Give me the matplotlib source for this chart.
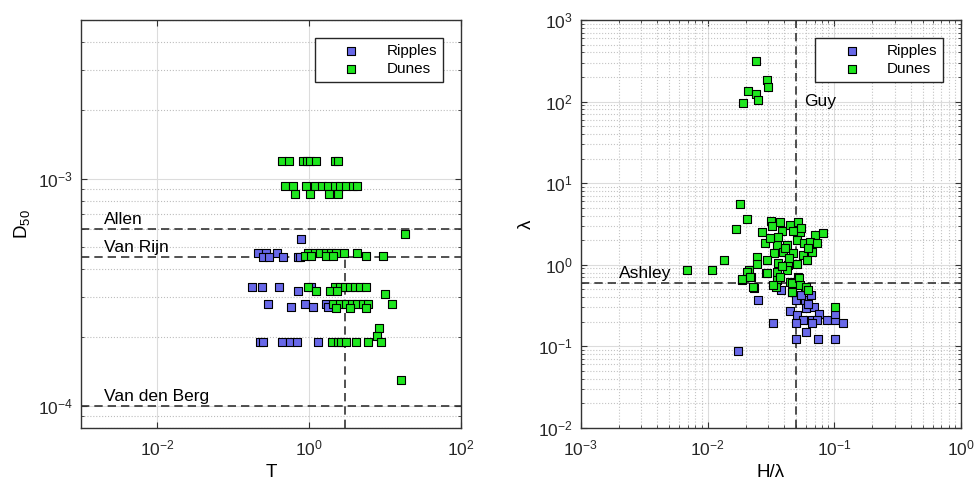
import matplotlib
matplotlib.use("Agg")
import matplotlib.pyplot as plt
import matplotlib.ticker as mticker

plt.rcParams['font.family'] = ['Liberation Sans', 'DejaVu Sans']
plt.rcParams['mathtext.default'] = 'regular'

# ---- bedform data: transport stage T vs median grain size D50 ----
ripples_T = [0.8,
             0.215, 0.27, 0.376,
             0.25, 0.30, 0.46, 0.72, 0.76,
             0.18, 0.245, 0.41, 1.08,
             0.72,
             0.29, 0.89, 1.67,
             0.59, 1.14, 1.8,
             0.23, 0.25, 0.45, 0.57, 0.70, 1.34]
ripples_D50 = [5.4e-4,
               4.7e-4, 4.7e-4, 4.7e-4,
               4.5e-4, 4.5e-4, 4.5e-4, 4.5e-4, 4.5e-4,
               3.33e-4, 3.33e-4, 3.33e-4, 3.33e-4,
               3.2e-4,
               2.81e-4, 2.81e-4, 2.81e-4,
               2.71e-4, 2.71e-4, 2.71e-4,
               1.9e-4, 1.9e-4, 1.9e-4, 1.9e-4, 1.9e-4, 1.9e-4]

dunes_T = [0.44, 0.55, 0.83, 0.95, 1.03, 1.26, 2.2, 2.4,
           0.48, 0.62, 0.93, 1.2, 1.47, 1.8, 2.2, 2.56, 3.13, 3.83, 4.3,
           0.65, 1.03, 1.85, 2.43,
           18.3,
           0.98, 1.2, 1.4, 1.67, 1.99, 2.3, 2.9, 4.3,
           0.89, 1.08, 1.71, 2.09, 5.6, 9.5,
           0.98, 2.2, 2.56, 2.98, 3.47, 4.0, 4.7, 5.6,
           1.26, 1.89, 2.36,
           10.0,
           2.09, 2.56, 3.07, 3.65, 4.3, 5.2, 6.0, 12.3,
           2.3, 3.47, 5.7,
           8.4,
           7.8,
           2.05, 2.43, 2.69, 3.07, 4.15, 6.0, 9.05,
           16.6]
dunes_D50 = [1.2e-3] * 8 + [9.3e-4] * 11 + [8.6e-4] * 4 + [5.7e-4] + \
            [4.7e-4] * 8 + [4.55e-4] * 6 + [3.33e-4] * 8 + [3.19e-4] * 3 + \
            [3.1e-4] + [2.81e-4] * 8 + [2.7e-4] * 3 + [2.2e-4] + [2.03e-4] + \
            [1.9e-4] * 7 + [1.3e-4]

# ---- bedform data: steepness H/lambda vs wavelength lambda ----
ripples_steep = [0.0377, 0.0252, 0.05, 0.0587, 0.0651, 0.0448, 0.0505,
                 0.0598, 0.069, 0.076, 0.057, 0.0664, 0.0726, 0.087, 0.101,
                 0.101, 0.118, 0.033, 0.05, 0.0598, 0.05, 0.0748, 0.101,
                 0.0175, 0.0664, 0.062, 0.055]
ripples_lambda = [0.49, 0.37, 0.37, 0.37, 0.43, 0.27, 0.24,
                  0.29, 0.30, 0.25, 0.21, 0.21, 0.21, 0.21, 0.21,
                  0.25, 0.19, 0.19, 0.19, 0.15, 0.124, 0.122, 0.122,
                  0.088, 0.19, 0.33, 0.42]

dunes_steep = [0.024, 0.0293, 0.0301, 0.021, 0.0242, 0.0251, 0.019,
               0.0069, 0.0108, 0.0135, 0.018, 0.0204, 0.0168,
               0.0267, 0.0315, 0.0373, 0.0321, 0.0385, 0.0448, 0.052,
               0.0537, 0.0705, 0.081, 0.0284, 0.0351, 0.042, 0.0505,
               0.0577, 0.0643, 0.0726, 0.0334, 0.0396, 0.0475, 0.057,
               0.0664, 0.0247, 0.0293, 0.0361, 0.0434, 0.0505, 0.0612,
               0.0244, 0.0214, 0.0289, 0.0351, 0.042, 0.0204, 0.0187,
               0.0219, 0.0351, 0.0448, 0.052, 0.0233, 0.0347, 0.0461,
               0.0587, 0.049,
               0.0186, 0.0216, 0.023, 0.0293, 0.033, 0.0373, 0.046,
               0.046, 0.053, 0.0537, 0.0598, 0.0624, 0.1014,
               0.036, 0.041, 0.047, 0.031, 0.044, 0.055, 0.039, 0.062]
dunes_lambda = [316, 184, 152, 136, 124, 104, 95,
                0.87, 0.86, 1.13, 5.5, 3.6, 2.73,
                2.48, 3.45, 3.36, 3.0, 2.6, 3.06, 3.36,
                2.53, 2.3, 2.46, 1.82, 1.74, 1.74, 2.0,
                1.82, 1.91, 1.82, 1.40, 1.44, 1.37, 1.31,
                1.44, 1.25, 1.14, 1.05, 0.99, 1.03, 1.14,
                1.01, 0.86, 0.79, 0.82, 0.86, 0.82, 0.65,
                0.70, 0.65, 0.62, 0.71, 0.52, 0.53, 0.46,
                0.53, 0.59,
                0.66, 0.71, 0.53, 0.78, 0.56, 0.71, 0.59,
                0.46, 0.68, 0.56, 0.53, 0.49, 0.30,
                2.2, 1.6, 2.6, 2.1, 1.2, 2.8, 0.95, 1.6]

# threshold lines
allen_D50 = 6.0e-4
vanrijn_D50 = 4.5e-4
vandenberg_D50 = 1.0e-4
T_crit = 3.0
guy_steep = 0.05
ashley_lambda = 0.6

ripple_color = '#6868e8'
dune_color = '#1ee61e'
line_color = '#333333'

fig = plt.figure(figsize=(9.76, 4.83), dpi=100)
ax1 = fig.add_axes([0.083, 0.1145, 0.389, 0.844])
ax2 = fig.add_axes([0.595, 0.1145, 0.3897, 0.844])


def style_axes(ax):
    for sp in ax.spines.values():
        sp.set_color('#333333')
        sp.set_linewidth(1.0)
    ax.tick_params(which='both', direction='in', top=True, right=True,
                   colors='#333333', labelcolor='#262626', labelsize=12.5)
    ax.tick_params(which='major', length=4)
    ax.tick_params(which='minor', length=2)
    ax.tick_params(axis='x', which='major', pad=8)
    ax.tick_params(axis='y', which='major', pad=6)
    ax.set_axisbelow(True)


def add_legend(ax):
    leg = ax.legend(loc='upper right', fontsize=11, frameon=True, fancybox=False,
                    handlelength=4.0, handletextpad=0.3, borderpad=0.4,
                    borderaxespad=1.15, labelspacing=0.3, scatterpoints=1)
    leg.get_frame().set_edgecolor('#262626')
    leg.get_frame().set_linewidth(1.0)
    leg.get_frame().set_alpha(1.0)


dash = dict(color=line_color, linewidth=1.2, dashes=(5, 3), zorder=1)

# ===== left panel: T vs D50 =====
style_axes(ax1)
ax1.set_xscale('log')
ax1.set_yscale('log')
ax1.set_xlim(1e-3, 1e2)
ax1.set_ylim(8e-5, 5e-3)
ax1.xaxis.set_major_locator(mticker.FixedLocator([1e-2, 1e0, 1e2]))
ax1.xaxis.set_minor_locator(mticker.NullLocator())
ax1.yaxis.set_major_locator(mticker.FixedLocator([1e-4, 1e-3]))
ax1.yaxis.set_minor_locator(mticker.LogLocator(base=10, subs=range(2, 10)))
ax1.yaxis.set_minor_formatter(mticker.NullFormatter())
ax1.grid(True, which='major', color='#dcdcdc', linewidth=0.8)
ax1.grid(True, which='minor', axis='y', color='#bdbdbd', linewidth=0.8, linestyle=':')

ax1.axhline(allen_D50, **dash)
ax1.axhline(vanrijn_D50, **dash)
ax1.axhline(vandenberg_D50, **dash)
ax1.plot([T_crit, T_crit], [8e-5, vanrijn_D50], **dash)
ax1.text(2.0e-3, allen_D50 * 1.02, 'Allen', fontsize=12.5, va='bottom', ha='left')
ax1.text(2.0e-3, vanrijn_D50 * 1.02, 'Van Rijn', fontsize=12.5, va='bottom', ha='left')
ax1.text(2.0e-3, vandenberg_D50 * 1.02, 'Van den Berg', fontsize=12.5, va='bottom', ha='left')

ax1.scatter(ripples_T, ripples_D50, s=36, marker='s', color=ripple_color,
            edgecolors='black', linewidths=0.8, zorder=3, label='Ripples')
ax1.scatter(dunes_T, dunes_D50, s=36, marker='s', color=dune_color,
            edgecolors='black', linewidths=0.8, zorder=3, label='Dunes')
ax1.set_xlabel('T', fontsize=13.5, labelpad=4)
ax1.set_ylabel('D$_{50}$', fontsize=13.5, labelpad=4)
add_legend(ax1)

# ===== right panel: H/lambda vs lambda =====
style_axes(ax2)
ax2.set_xscale('log')
ax2.set_yscale('log')
ax2.set_xlim(1e-3, 1e0)
ax2.set_ylim(1e-2, 1e3)
ax2.xaxis.set_major_locator(mticker.LogLocator(base=10, numticks=10))
ax2.yaxis.set_major_locator(mticker.LogLocator(base=10, numticks=10))
ax2.xaxis.set_minor_locator(mticker.LogLocator(base=10, subs=range(2, 10), numticks=20))
ax2.yaxis.set_minor_locator(mticker.LogLocator(base=10, subs=range(2, 10), numticks=20))
ax2.xaxis.set_minor_formatter(mticker.NullFormatter())
ax2.yaxis.set_minor_formatter(mticker.NullFormatter())
ax2.grid(True, which='major', color='#dcdcdc', linewidth=0.8)
ax2.grid(True, which='minor', color='#c4c4c4', linewidth=0.8, linestyle=':')

ax2.axvline(guy_steep, **dash)
ax2.axhline(ashley_lambda, **dash)
ax2.text(0.058, 100, 'Guy', fontsize=12.5, va='center', ha='left')
ax2.text(2.0e-3, ashley_lambda * 1.05, 'Ashley', fontsize=12.5, va='bottom', ha='left')

ax2.scatter(ripples_steep, ripples_lambda, s=36, marker='s', color=ripple_color,
            edgecolors='black', linewidths=0.8, zorder=3, label='Ripples')
ax2.scatter(dunes_steep, dunes_lambda, s=36, marker='s', color=dune_color,
            edgecolors='black', linewidths=0.8, zorder=3, label='Dunes')
ax2.set_xlabel('H/λ', fontsize=13.5, labelpad=4)
ax2.set_ylabel('λ', fontsize=13.5, labelpad=2)
add_legend(ax2)

fig.savefig('out.png', dpi=100)
